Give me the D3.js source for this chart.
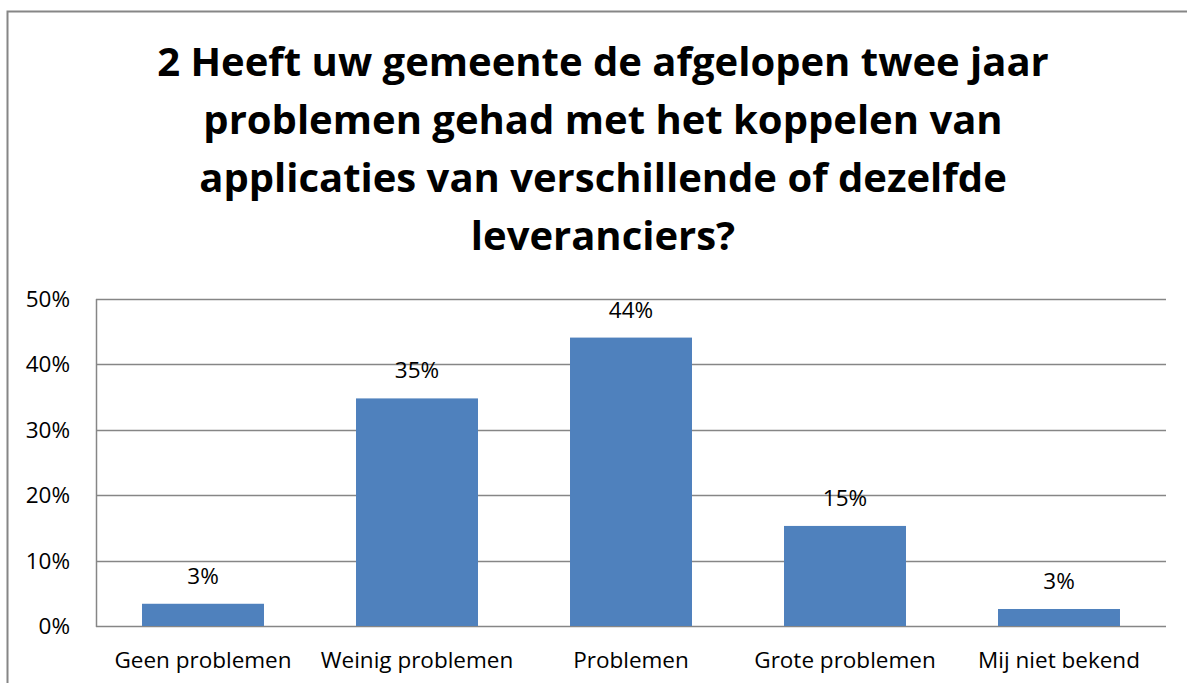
<!DOCTYPE html>
<html>
<head>
<meta charset="utf-8">
<script src="https://cdn.jsdelivr.net/npm/d3@7"></script>
<style>
  html, body { margin: 0; padding: 0; background: #fff; }
  svg { display: block; }
</style>
</head>
<body>
<svg id="chart" width="1187" height="683"></svg>
<script>
var titleLines = [
  "2 Heeft uw gemeente de afgelopen twee jaar",
  "problemen gehad met het koppelen van",
  "applicaties van verschillende of dezelfde",
  "leveranciers?"
];
var categories = ["Geen problemen", "Weinig problemen", "Problemen", "Grote problemen", "Mij niet bekend"];
var values = [0.034, 0.348, 0.441, 0.153, 0.026];
var valueLabels = ["3%", "35%", "44%", "15%", "3%"];
var yTicks = [0, 0.1, 0.2, 0.3, 0.4, 0.5];

var fontFamily = "'Open Sans', Carlito, Calibri, sans-serif";
var gridColor = "#868686";
var barColor = "#4F81BD";

var svg = d3.select("#chart");

// outer chart border (runs off the right and bottom of the picture)
svg.append("rect")
  .attr("x", 7.5)
  .attr("y", 11.5)
  .attr("width", 1200)
  .attr("height", 700)
  .style("fill", "none")
  .style("stroke", gridColor)
  .style("stroke-width", 2);

// title
svg.append("g")
  .selectAll("text")
  .data(titleLines)
  .join("text")
  .attr("x", 603)
  .attr("y", (d, i) => 76 + i * 58)
  .text(d => d)
  .style("font-family", fontFamily)
  .style("font-weight", "bold")
  .style("font-size", "40px")
  .style("fill", "#000")
  .style("text-anchor", "middle");

var plot = { left: 96, right: 1166, top: 299, bottom: 626 };

var x = d3.scaleBand()
  .domain(categories)
  .range([plot.left, plot.right])
  .paddingInner(0.43)
  .paddingOuter(0.215);

var y = d3.scaleLinear()
  .domain([0, 0.5])
  .range([plot.bottom, plot.top]);

// gridlines
svg.append("g")
  .selectAll("line")
  .data(yTicks)
  .join("line")
  .attr("x1", plot.left)
  .attr("x2", plot.right)
  .attr("y1", d => Math.round(y(d)) + 0.5)
  .attr("y2", d => Math.round(y(d)) + 0.5)
  .style("stroke", gridColor)
  .style("stroke-width", 1.5);

// y axis line
svg.append("line")
  .attr("x1", plot.left + 0.5)
  .attr("x2", plot.left + 0.5)
  .attr("y1", plot.top)
  .attr("y2", plot.bottom + 1)
  .style("stroke", gridColor)
  .style("stroke-width", 1.5);

// y tick labels
svg.append("g")
  .selectAll("text")
  .data(yTicks)
  .join("text")
  .attr("x", 70)
  .attr("y", d => y(d) + 8)
  .text(d => d3.format(".0%")(d))
  .style("font-family", fontFamily)
  .style("font-size", "22.5px")
  .style("fill", "#000")
  .style("text-anchor", "end");

// bars
svg.append("g")
  .selectAll("rect")
  .data(values)
  .join("rect")
  .attr("x", (d, i) => x(categories[i]))
  .attr("y", d => y(d))
  .attr("width", x.bandwidth())
  .attr("height", d => y(0) - y(d))
  .style("fill", barColor);

// value labels
svg.append("g")
  .selectAll("text")
  .data(values)
  .join("text")
  .attr("x", (d, i) => x(categories[i]) + x.bandwidth() / 2)
  .attr("y", d => y(d) - 20)
  .text((d, i) => valueLabels[i])
  .style("font-family", fontFamily)
  .style("font-size", "22.5px")
  .style("fill", "#000")
  .style("text-anchor", "middle");

// category labels
svg.append("g")
  .selectAll("text")
  .data(categories)
  .join("text")
  .attr("x", d => x(d) + x.bandwidth() / 2)
  .attr("y", 668)
  .text(d => d)
  .style("font-family", fontFamily)
  .style("font-size", "22.5px")
  .style("fill", "#000")
  .style("text-anchor", "middle");
</script>
</body>
</html>
